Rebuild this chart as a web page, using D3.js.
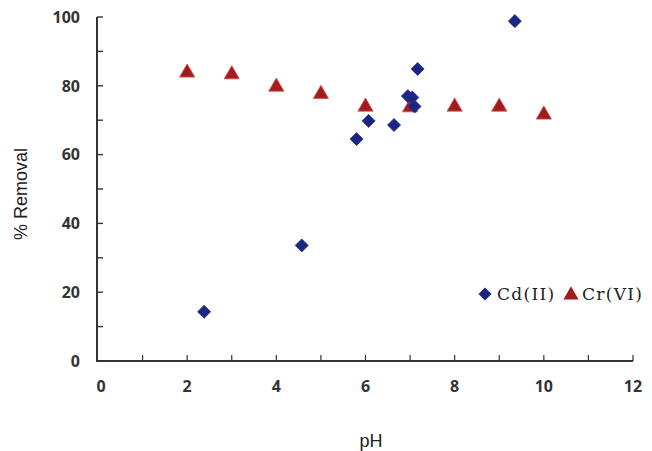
<!DOCTYPE html>
<html>
<head>
<meta charset="utf-8">
<script src="https://cdn.jsdelivr.net/npm/d3@7"></script>
<style>
  body { margin: 0; background: #fff; }
  svg { display: block; }
</style>
</head>
<body>
<svg id="chart"></svg>
<script>
// Cd(II) removal vs pH
const cdPH = [2.38, 4.57, 5.8, 6.07, 6.64, 6.95, 7.05, 7.1, 7.17, 9.35];
const cdRemoval = [14.3, 33.6, 64.5, 69.8, 68.6, 77.0, 76.6, 74.0, 84.9, 98.8];
// Cr(VI) removal vs pH
const crPH = [2, 3, 4, 5, 6, 7, 8, 9, 10];
const crRemoval = [83.8, 83.3, 79.7, 77.6, 73.9, 73.7, 73.9, 73.9, 71.6];

const xTicks = [0, 1, 2, 3, 4, 5, 6, 7, 8, 9, 10, 11, 12];
const yTicks = [0, 10, 20, 30, 40, 50, 60, 70, 80, 90, 100];

const W = 652, H = 451;
const svg = d3.select('#chart').attr('width', W).attr('height', H);

const x = d3.scaleLinear().domain([0, 12]).range([98, 633]);
const y = d3.scaleLinear().domain([0, 100]).range([361, 17]);

const axisColor = '#333333';
const tickFont = "'Liberation Sans Narrow', 'Open Sans', sans-serif";

// axis frame (left + bottom), drawn as filled bars
svg.append('rect')
  .attr('x', x(0) - 2).attr('y', y(100))
  .attr('width', 2).attr('height', y(0) - y(100) + 1)
  .attr('fill', axisColor);
svg.append('rect')
  .attr('x', x(0) - 2).attr('y', y(0) - 1)
  .attr('width', x(12) - x(0) + 2).attr('height', 2)
  .attr('fill', axisColor);

// y ticks (inward)
svg.append('g').selectAll('line')
  .data(yTicks)
  .join('line')
  .attr('x1', x(0) - 1).attr('x2', x(0) + 5)
  .attr('y1', d => y(d)).attr('y2', d => y(d))
  .attr('stroke', axisColor).attr('stroke-width', 1.4);

// x ticks (inward)
svg.append('g').selectAll('line')
  .data(xTicks.filter(d => d > 0))
  .join('line')
  .attr('x1', d => x(d)).attr('x2', d => x(d))
  .attr('y1', y(0)).attr('y2', y(0) - 6)
  .attr('stroke', axisColor).attr('stroke-width', 1.2);

// tick labels
svg.append('g').selectAll('text')
  .data(yTicks.filter(d => d % 20 === 0))
  .join('text')
  .attr('x', 80)
  .attr('y', d => y(d))
  .attr('dy', '0.36em')
  .attr('text-anchor', 'end')
  .attr('font-family', tickFont)
  .attr('font-weight', 700)
  .attr('font-size', 16)
  .attr('fill', '#333')
  .text(d => d);

svg.append('g').selectAll('text')
  .data(xTicks.filter(d => d % 2 === 0))
  .join('text')
  .attr('x', d => x(d) + (d === 0 ? 3 : 0))
  .attr('y', 392)
  .attr('text-anchor', 'middle')
  .attr('font-family', tickFont)
  .attr('font-weight', 700)
  .attr('font-size', 16)
  .attr('fill', '#333')
  .text(d => d);

// axis titles
svg.append('text')
  .attr('transform', `translate(27,${y(50) + 5}) rotate(-90)`)
  .attr('text-anchor', 'middle')
  .attr('font-family', "'Liberation Sans', Arial, sans-serif")
  .attr('font-size', 18)
  .attr('fill', '#222')
  .text('% Removal');

svg.append('text')
  .attr('x', 371)
  .attr('y', 447)
  .attr('text-anchor', 'middle')
  .attr('font-family', "'Liberation Sans', Arial, sans-serif")
  .attr('font-size', 18)
  .attr('fill', '#222')
  .text('pH');

// markers
const diamond = d3.symbol().type(d3.symbolSquare).size(85);
const triangle = d3.symbol().type(d3.symbolTriangle).size(100);
const cdColor = '#1b2680';
const crColor = '#a11d1d';

svg.append('g').selectAll('path')
  .data(crPH.map((p, i) => ({ p, v: crRemoval[i] })))
  .join('path')
  .attr('d', triangle)
  .attr('transform', d => `translate(${x(d.p)},${y(d.v)})`)
  .attr('fill', crColor)
  .attr('stroke', '#d0504a')
  .attr('stroke-width', 0.8);

svg.append('g').selectAll('path')
  .data(cdPH.map((p, i) => ({ p, v: cdRemoval[i] })))
  .join('path')
  .attr('d', diamond)
  .attr('transform', d => `translate(${x(d.p)},${y(d.v)}) rotate(45)`)
  .attr('fill', cdColor)
  .attr('stroke', '#2a3590')
  .attr('stroke-width', 0.8);

// legend
const legendFont = "'DejaVu Serif', 'Liberation Serif', serif";
const lg = svg.append('g').attr('transform', 'translate(0,294)');
lg.append('path').attr('d', diamond).attr('transform', 'translate(485,0) rotate(45)').attr('fill', cdColor);
lg.append('text').attr('x', 497).attr('y', 6)
  .attr('font-family', legendFont).attr('font-size', 17).attr('letter-spacing', 1.3).attr('fill', '#222')
  .text('Cd(II)');
lg.append('path').attr('d', triangle).attr('transform', 'translate(571,1)').attr('fill', crColor);
lg.append('text').attr('x', 582).attr('y', 6)
  .attr('font-family', legendFont).attr('font-size', 17).attr('letter-spacing', 1.3).attr('fill', '#222')
  .text('Cr(VI)');
</script>
</body>
</html>
